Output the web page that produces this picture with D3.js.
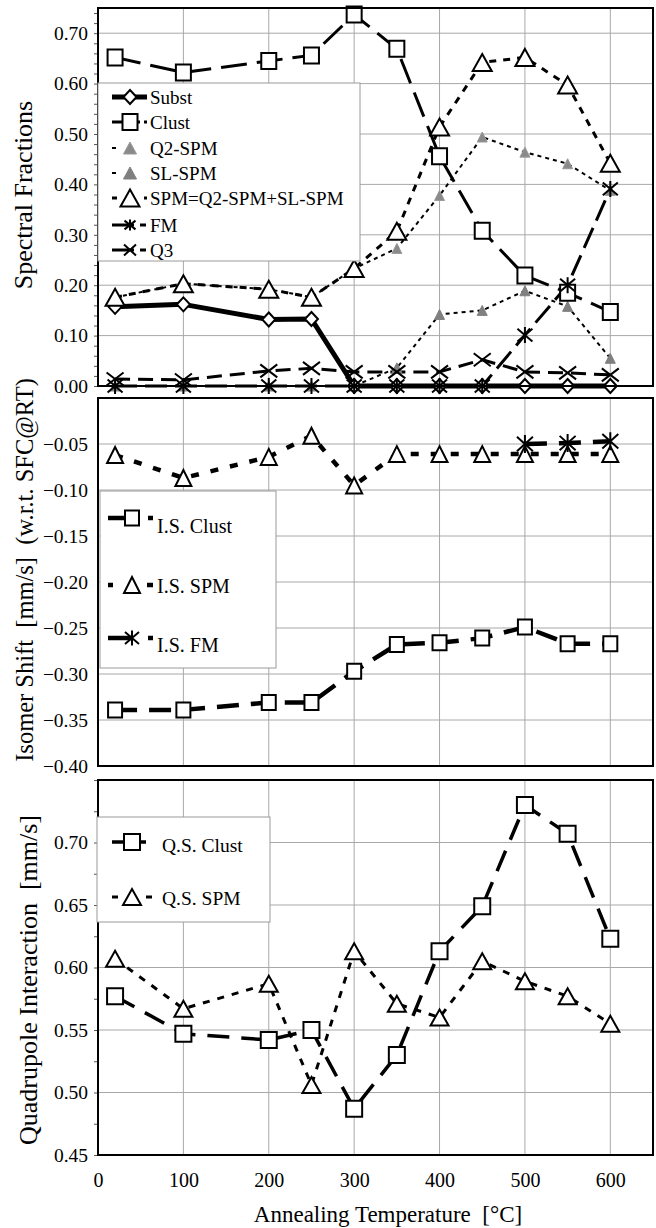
<!DOCTYPE html>
<html>
<head>
<meta charset="utf-8">
<script src="https://cdn.jsdelivr.net/npm/d3@7"></script>
<style>
  body { margin: 0; background: #fff; }
  svg { display: block; }
  text { font-family: "Liberation Serif", "Times New Roman", serif; fill: #000; }
</style>
</head>
<body>
<svg id="chart" width="656" height="1228"></svg>
<script>
// ---- data ----
const temps = [20, 100, 200, 250, 300, 350, 400, 450, 500, 550, 600];
const xTicks = [0, 100, 200, 300, 400, 500, 600];

// spectral fractions
const fracSubst = [0.157, 0.162, 0.132, 0.133, 0, 0, 0, 0, 0, 0, 0];
const fracClust = [0.652, 0.622, 0.645, 0.656, 0.737, 0.669, 0.456, 0.308, 0.219, 0.185, 0.147];
const fracQ2SPM = [0.176, 0.203, 0.192, 0.176, 0.233, 0.273, 0.378, 0.494, 0.464, 0.441, 0.388];
const fracSLSPM = [0, 0, 0, 0, 0, 0.036, 0.142, 0.150, 0.189, 0.158, 0.055];
const fracSPM   = [0.176, 0.203, 0.192, 0.176, 0.233, 0.307, 0.514, 0.642, 0.652, 0.597, 0.442];
const fracFM    = [0, 0, 0, 0, 0, 0, 0, 0, 0.101, 0.200, 0.391];
const fracQ3    = [0.014, 0.012, 0.030, 0.035, 0.028, 0.028, 0.028, 0.052, 0.028, 0.026, 0.022];
const fracTicks = [0, 0.10, 0.20, 0.30, 0.40, 0.50, 0.60, 0.70];

// isomer shift (mm/s, w.r.t. SFC at RT)
const isClust = [-0.339, -0.339, -0.331, -0.331, -0.297, -0.268, -0.266, -0.261, -0.249, -0.267, -0.267];
const isSPM   = [-0.062, -0.087, -0.064, -0.041, -0.095, -0.061, -0.061, -0.061, -0.061, -0.061, -0.061];
const isFM    = [null, null, null, null, null, null, null, null, -0.050, -0.049, -0.047];
const shiftTicks = [-0.40, -0.35, -0.30, -0.25, -0.20, -0.15, -0.10, -0.05];

// quadrupole interaction (mm/s)
const qsClust = [0.577, 0.547, 0.542, 0.550, 0.487, 0.530, 0.613, 0.649, 0.730, 0.707, 0.623];
const qsSPM   = [0.607, 0.567, 0.587, 0.506, 0.613, 0.571, 0.560, 0.605, 0.589, 0.577, 0.555];
const quadTicks = [0.45, 0.50, 0.55, 0.60, 0.65, 0.70];

// ---- layout ----
const svg = d3.select("#chart");
const X0 = 98, X1 = 653;
const x = d3.scaleLinear().domain([0, 650]).range([X0, X1]);
const fmt = d3.format(".2f");

function markerPath(shape, w, h) {
  const a = w / 2, b = h / 2;
  switch (shape) {
    case "square":   return `M${-a},${-b}H${a}V${b}H${-a}Z`;
    case "triangle": return `M0,${-b}L${a},${b}H${-a}Z`;
    case "diamond":  return `M0,${-b}L${a},0L0,${b}L${-a},0Z`;
    case "star":     return `M0,${-b}V${b}M${-a},${-b * 0.8}L${a},${b * 0.8}M${a},${-b * 0.8}L${-a},${b * 0.8}`;
    case "x":        return `M${-a},${-b}L${a},${b}M${a},${-b}L${-a},${b}`;
  }
}

function drawPanel(cfg) {
  const y = d3.scaleLinear().domain(cfg.domain).range(cfg.range);
  const g = svg.append("g");
  const top = cfg.range[1], bottom = cfg.range[0];

  // grid
  g.append("g").selectAll("line").data(xTicks.filter(d => d > 0)).join("line")
    .attr("x1", d => x(d)).attr("x2", d => x(d)).attr("y1", top).attr("y2", bottom)
    .attr("stroke", "#a8a8a8").attr("stroke-width", 1);
  g.append("g").selectAll("line").data(cfg.ticks).join("line")
    .attr("x1", X0).attr("x2", X1).attr("y1", d => y(d)).attr("y2", d => y(d))
    .attr("stroke", "#a8a8a8").attr("stroke-width", 1);

  // minor ticks on the left axis
  if (cfg.minorStep) {
    const minor = d3.range(cfg.domain[0], cfg.domain[1] + 1e-9, cfg.minorStep);
    g.append("g").attr("transform", `translate(${X0},0)`)
      .call(d3.axisLeft(y).tickValues(minor).tickSize(4).tickFormat(""))
      .call(s => s.select(".domain").remove())
      .selectAll("line").attr("stroke", "#555");
  }

  // left axis labels
  g.append("g").attr("transform", `translate(${X0},0)`)
    .call(d3.axisLeft(y).tickValues(cfg.ticks).tickSize(0).tickPadding(10).tickFormat(fmt))
    .call(s => s.select(".domain").remove())
    .selectAll("text").attr("font-size", 19.5).attr("font-family", "Liberation Serif");

  // series lines
  cfg.series.forEach(s => {
    const line = d3.line().defined(d => d[1] != null).x(d => x(d[0])).y(d => y(d[1]));
    g.append("path").datum(temps.map((t, i) => [t, s.values[i]]))
      .attr("d", line).attr("fill", "none").attr("stroke", "#000")
      .attr("stroke-width", s.width).attr("stroke-dasharray", s.dash)
      .attr("stroke-linejoin", "round");
  });

  // markers
  cfg.series.forEach(s => {
    g.append("g").selectAll("path").data(temps.map((t, i) => [t, s.values[i]]).filter(d => d[1] != null))
      .join("path")
      .attr("transform", d => `translate(${x(d[0])},${y(d[1])})`)
      .attr("d", markerPath(s.shape, s.mw, s.mh))
      .attr("fill", s.fill).attr("stroke", s.stroke).attr("stroke-width", s.mstroke);
  });

  // frame
  g.append("rect").attr("x", X0).attr("y", top).attr("width", X1 - X0).attr("height", bottom - top)
    .attr("fill", "none").attr("stroke", "#000").attr("stroke-width", 2);

  // legend
  const L = cfg.legend;
  g.append("rect").attr("x", L.x).attr("y", L.y).attr("width", L.w).attr("height", L.h)
    .attr("fill", "#fff").attr("stroke", "#9a9a9a").attr("stroke-width", 1);
  cfg.series.forEach((s, i) => {
    const ly = L.rows[i], ty = L.textRows[i];
    g.append("line").attr("x1", L.lx0).attr("x2", L.lx1).attr("y1", ly).attr("y2", ly)
      .attr("stroke", "#000").attr("stroke-width", s.width).attr("stroke-dasharray", s.legendDash || s.dash);
    g.append("path").attr("transform", `translate(${L.mx},${ly})`)
      .attr("d", markerPath(s.shape, s.lw || s.mw, s.lh || s.mh))
      .attr("fill", s.fill).attr("stroke", s.stroke).attr("stroke-width", s.mstroke);
    g.append("text").attr("x", L.tx).attr("y", ty).attr("font-size", L.fs).text(s.name);
  });

  // axis title
  svg.append("text")
    .attr("transform", `translate(${cfg.title.x},${cfg.title.y}) rotate(-90)`)
    .attr("text-anchor", "middle").attr("font-size", cfg.title.fs)
    .style("white-space", "pre").text(cfg.title.text);
  return y;
}

// ---- top panel: spectral fractions ----
drawPanel({
  domain: [0, 0.75], range: [386, 8], ticks: fracTicks, minorStep: 0.02,
  series: [
    { name: "Q2-SPM", values: fracQ2SPM, shape: "triangle", mw: 10, mh: 10, lw: 13, lh: 12, fill: "#8a8a8a", stroke: "#9a9a9a", mstroke: 1, width: 2, dash: "4,4", legendDash: "4,13,4,20" },
    { name: "SL-SPM", values: fracSLSPM, shape: "triangle", mw: 10, mh: 10, lw: 13, lh: 12, fill: "#808080", stroke: "#808080", mstroke: 1, width: 2, dash: "4,4", legendDash: "4,13,4,20" },
    { name: "Subst", values: fracSubst, shape: "diamond", mw: 13, mh: 14, fill: "#fff", stroke: "#000", mstroke: 2, width: 5, dash: null },
    { name: "Clust", values: fracClust, shape: "square", mw: 15, mh: 16, fill: "#fff", stroke: "#000", mstroke: 2, width: 3, dash: "26,10", legendDash: "28,4,6,20" },
    { name: "SPM=Q2-SPM+SL-SPM", values: fracSPM, shape: "triangle", mw: 19, mh: 17, fill: "#fff", stroke: "#000", mstroke: 2, width: 3, dash: "7,7", legendDash: "5,27,3,20" },
    { name: "FM", values: fracFM, shape: "star", mw: 15, mh: 16, lw: 11, lh: 11, fill: "none", stroke: "#000", mstroke: 2, width: 3, dash: "22,8", legendDash: "22,6,6,20" },
    { name: "Q3", values: fracQ3, shape: "x", mw: 17, mh: 13, lw: 12, lh: 11, fill: "none", stroke: "#000", mstroke: 2, width: 3, dash: "15,8", legendDash: "22,6,6,20" }
  ],
  legend: { x: 98, y: 83, w: 262, h: 178, lx0: 112, lx1: 147, mx: 130, tx: 150, fs: 19,
            rows: [148, 173, 97, 122, 198, 225, 250], textRows: [155, 180, 104, 129, 205, 232, 257] },
  title: { text: "Spectral Fractions", x: 32, y: 195, fs: 26 }
});

// ---- middle panel: isomer shift ----
drawPanel({
  domain: [-0.40, 0], range: [766, 398], ticks: shiftTicks, minorStep: null,
  series: [
    { name: "I.S. Clust", values: isClust, shape: "square", mw: 14, mh: 15, fill: "#fff", stroke: "#000", mstroke: 2, width: 4.5, dash: "22,12", legendDash: "24,16,8,20" },
    { name: "I.S. SPM", values: isSPM, shape: "triangle", mw: 16, mh: 16, fill: "#fff", stroke: "#000", mstroke: 2, width: 4.5, dash: "8,12", legendDash: "5,34,6,20" },
    { name: "I.S. FM", values: isFM, shape: "star", mw: 16, mh: 18, lw: 14, lh: 15, fill: "none", stroke: "#000", mstroke: 2, width: 4.5, dash: "22,12", legendDash: "24,16,6,20" }
  ],
  legend: { x: 100, y: 491, w: 176, h: 177, lx0: 108, lx1: 153, mx: 132, tx: 157, fs: 20,
            rows: [518, 585, 638], textRows: [533, 593, 652] },
  title: { text: "Isomer Shift  [mm/s]  (w.r.t. SFC@RT)", x: 33, y: 570, fs: 24.5 }
});

// ---- bottom panel: quadrupole interaction ----
drawPanel({
  domain: [0.45, 0.75], range: [1155, 780], ticks: quadTicks, minorStep: 0.025,
  series: [
    { name: "Q.S. Clust", values: qsClust, shape: "square", mw: 16, mh: 16, fill: "#fff", stroke: "#000", mstroke: 2, width: 3.5, dash: "22,12", legendDash: "14,12,8,20" },
    { name: "Q.S. SPM", values: qsSPM, shape: "triangle", mw: 18, mh: 16, fill: "#fff", stroke: "#000", mstroke: 2, width: 3, dash: "7,8", legendDash: "6,28,6,20" }
  ],
  legend: { x: 97, y: 817, w: 173, h: 105, lx0: 112, lx1: 152, mx: 132, tx: 162, fs: 19.5,
            rows: [842, 897], textRows: [852, 905] },
  title: { text: "Quadrupole Interaction  [mm/s]", x: 37, y: 980, fs: 26 }
});

// x axis labels on the bottom panel
svg.append("g").attr("transform", "translate(0,1155)")
  .call(d3.axisBottom(x).tickValues(xTicks).tickSize(0).tickPadding(18).tickFormat(d3.format("d")))
  .call(s => s.select(".domain").remove())
  .selectAll("text").attr("font-size", 20).attr("font-family", "Liberation Serif");

svg.append("text").attr("x", 388).attr("y", 1222).attr("text-anchor", "middle")
  .attr("font-size", 23).style("white-space", "pre").text("Annealing Temperature  [°C]");
</script>
</body>
</html>
